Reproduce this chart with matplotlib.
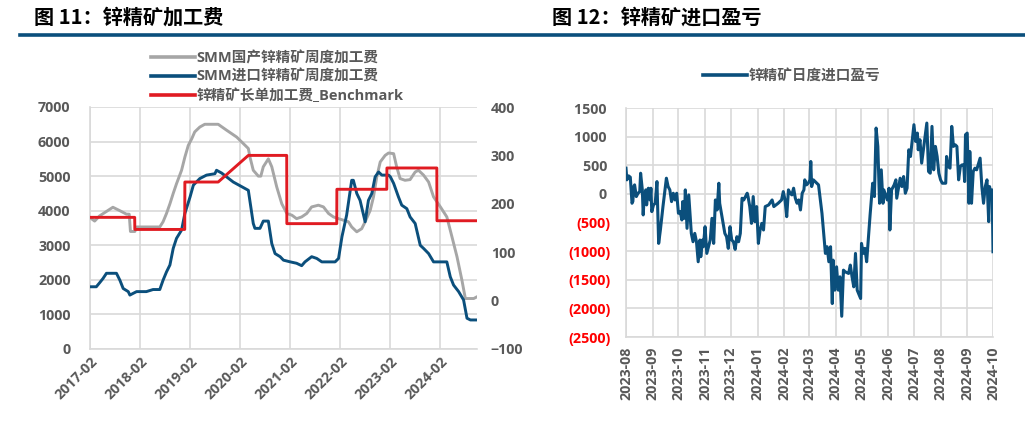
import matplotlib
matplotlib.use('Agg')
import matplotlib.pyplot as plt
import matplotlib.dates as mdates
import pandas as pd
from matplotlib.lines import Line2D
from matplotlib.ticker import FuncFormatter, FixedLocator

plt.rcParams['font.family'] = ['Open Sans', 'Noto Sans CJK SC', 'DejaVu Sans']

# ---------------- data: chart 11 ----------------
dom_dates = ['2017-02-01', '2017-03-07', '2017-04-12', '2017-07-18', '2017-09-07', '2017-10-25',
             '2017-11-14', '2017-11-23', '2017-12-25', '2018-01-07', '2018-06-25', '2018-07-19',
             '2018-08-13', '2018-09-07', '2018-10-01', '2018-10-25', '2018-12-01', '2018-12-25',
             '2019-01-19', '2019-02-13', '2019-03-07', '2019-04-13', '2019-05-19', '2019-08-25',
             '2019-10-25', '2020-01-07', '2020-04-01', '2020-04-13', '2020-05-07', '2020-06-13',
             '2020-07-01', '2020-07-19', '2020-08-25', '2020-09-19', '2020-10-25', '2020-12-01',
             '2021-01-07', '2021-02-13', '2021-03-19', '2021-04-25', '2021-06-01', '2021-07-07',
             '2021-08-25', '2021-10-01', '2021-11-07', '2021-12-13', '2022-01-19', '2022-04-01',
             '2022-04-25', '2022-06-01', '2022-07-07', '2022-08-01', '2022-09-07', '2022-10-01',
             '2022-10-25', '2022-11-19', '2022-12-25', '2023-01-19', '2023-02-25', '2023-03-19',
             '2023-04-13', '2023-05-19', '2023-06-25', '2023-08-01', '2023-08-25', '2023-10-01',
             '2023-11-07', '2023-12-13', '2024-02-01', '2024-03-19', '2024-04-25', '2024-06-01',
             '2024-07-07', '2024-08-01', '2024-10-01', '2024-10-25']
dom_vals = [3800, 3700, 3850, 4100, 4000, 3900, 3900, 3400, 3400, 3530, 3530, 3680,
            3920, 4200, 4500, 4780, 5170, 5550, 5890, 6080, 6280, 6420, 6500, 6500,
            6330, 6130, 5800, 5550, 5170, 5000, 5000, 5270, 5500, 5270, 4690, 4200,
            3920, 3870, 3770, 3820, 3920, 4110, 4160, 4110, 3920, 3820, 3770, 3680,
            3530, 3390, 3480, 3680, 4010, 4400, 4980, 5410, 5600, 5670, 5650, 5270,
            4930, 4880, 4900, 5120, 5170, 5030, 4830, 4400, 4110, 3820, 3250, 2670,
            1990, 1460, 1460, 1510]

imp_dates = ['2017-02-01', '2017-03-19', '2017-04-13', '2017-05-07', '2017-06-01', '2017-08-13',
             '2017-09-07', '2017-10-01', '2017-11-07', '2017-11-19', '2017-12-13', '2018-01-07',
             '2018-03-19', '2018-05-07', '2018-06-25', '2018-07-19', '2018-08-13', '2018-09-07',
             '2018-10-01', '2018-10-25', '2018-12-01', '2018-12-25', '2019-02-01', '2019-02-25',
             '2019-04-13', '2019-06-01', '2019-08-01', '2019-08-13', '2019-09-19', '2019-12-13',
             '2020-04-01', '2020-05-07', '2020-05-19', '2020-06-25', '2020-07-19', '2020-08-25',
             '2020-09-19', '2020-10-13', '2020-11-19', '2020-12-13', '2021-02-01', '2021-03-19',
             '2021-04-25', '2021-05-19', '2021-07-07', '2021-08-13', '2021-09-19', '2021-12-25',
             '2022-01-19', '2022-02-13', '2022-03-19', '2022-04-25', '2022-05-07', '2022-06-01',
             '2022-06-25', '2022-08-01', '2022-08-25', '2022-09-19', '2022-10-13', '2022-11-07',
             '2022-12-01', '2023-01-19', '2023-02-01', '2023-02-25', '2023-04-01', '2023-04-25',
             '2023-06-01', '2023-06-25', '2023-08-01', '2023-09-07', '2023-10-01', '2023-11-07',
             '2023-12-13', '2024-03-19', '2024-04-13', '2024-05-07', '2024-06-13', '2024-07-19',
             '2024-08-13', '2024-09-07', '2024-10-25']
imp_vals = [1800, 1800, 1920, 2040, 2190, 2190, 1990, 1750, 1660, 1560, 1610, 1660,
            1660, 1720, 1720, 1990, 2230, 2430, 2910, 3200, 3440, 3920, 4400, 4740,
            4930, 5030, 5070, 5170, 5090, 4830, 4590, 3630, 3490, 3490, 3700, 3700,
            3050, 2760, 2670, 2570, 2520, 2480, 2410, 2520, 2670, 2620, 2520, 2520,
            2620, 3250, 3870, 4880, 4880, 4500, 4300, 3680, 4300, 4500, 4980, 5120,
            5030, 5030, 4980, 4790, 4400, 4160, 4060, 3820, 3630, 3000, 2910, 2760,
            2520, 2520, 2090, 1850, 1660, 1420, 890, 840, 840]

bm_dates = ['2017-02-01', '2017-12-24', '2017-12-25', '2018-12-24', '2018-12-25', '2019-08-25',
            '2020-04-01', '2021-01-06', '2021-01-07', '2022-01-06', '2022-01-07', '2023-01-06',
            '2023-01-07', '2024-01-06', '2024-01-07', '2024-10-25']
bm_vals = [172, 172, 147, 147, 245, 245, 300, 300, 159, 159, 230, 230, 274, 274, 165, 165]

left_year_ticks = ['2017-02', '2018-02', '2019-02', '2020-02', '2021-02', '2022-02', '2023-02', '2024-02']

# ---------------- data: chart 12 ----------------
pl_start = '2023-08-01'
pl_days = [0, 1, 3, 5, 7, 8, 9, 10, 12, 14, 16, 17, 19, 20, 21, 23, 24, 26, 28, 29, 30, 32, 34, 36, 38,
           40, 43, 47, 49, 51, 53, 55, 57, 59, 61, 63, 65, 66, 68, 69, 71, 73, 75, 76, 78, 80, 82,
           84, 86, 87, 89, 90, 92, 94, 96, 98, 100, 102, 104, 106, 108, 109, 111, 115, 117, 119,
           121, 123, 125, 127, 129, 131, 133, 135, 137, 139, 141, 142, 144, 146, 148, 150, 152,
           154, 156, 158, 160, 162, 166, 170, 172, 177, 181, 183, 185, 187, 189, 191, 193, 195,
           197, 199, 201, 203, 205, 207, 208, 210, 212, 214, 215, 216, 218, 220, 224, 228, 232,
           234, 236, 238, 240, 241, 243, 245, 247, 249, 251, 253, 255, 259, 261, 263, 265, 267,
           269, 273, 274, 276, 278, 280, 284, 287, 289, 291, 293, 295, 297, 299, 300, 304, 306,
           307, 309, 312, 314, 315, 317, 319, 321, 323, 325, 327, 329, 331, 335, 337, 339, 340,
           342, 344, 348, 350, 352, 354, 356, 358, 360, 362, 364, 366, 368, 372, 373, 375, 377,
           379, 381, 383, 385, 387, 389, 391, 393, 394, 395, 397, 399, 400, 402, 404, 406, 408,
           412, 414, 416, 418, 420, 422, 423, 424, 426, 427]
pl_vals = [449, 245, 315, 291, -164, -130, 128, 157, -47, 11, 40, 361, 70, -368, -106, 70, -193, 99,
           -106, 99, -310, -193, -164, 215, -865, -631, -222, 274, 128, 70, -135, 11, -106, 11,
           -339, -310, -456, -135, -427, 70, -602, -18, -456, -690, -836, -690, -836, -1186, -806,
           -1098, -806, -923, -573, -1040, -923, -806, -427, -865, -106, -281, 186, -164, -339,
           -690, -748, -952, -573, -806, -836, -970, -748, -836, -690, -76, -106, -47, 11, -47,
           -222, -515, -47, -485, -222, -865, -631, -515, -631, -222, -193, -106, -222, -164,
           -106, 40, -106, -398, 70, 11, -18, 99, -76, -164, -106, -281, 11, 70, 245, 157, 186,
           245, 566, 128, 245, 216, 157, -339, -1040, -923, -1186, -923, -1916, -1157, -1682,
           -1274, -1682, -1449, -2138, -1332, -1361, -1390, -1244, -1449, -1624, -1040, -1682,
           -1828, -865, -1040, -952, -1186, -368, 186, -47, 1150, 829, -164, 420, -164, 70, -106,
           99, -631, 70, 157, 245, -76, 99, 274, 128, 303, 11, 99, 770, 653, 1208, 916, 1062,
           770, 946, 537, 1004, 1237, 391, 361, 1179, 420, 829, 653, 361, 245, 186, 186, 653,
           478, 449, 1179, 829, 858, 829, 245, 478, 507, 507, 215, 1033, 1062, -164, 741, -164,
           391, 449, 420, 624, 128, -164, 128, 245, -485, 128, 11, 70, -1011]

right_month_ticks = ['2023-08', '2023-09', '2023-10', '2023-11', '2023-12', '2024-01', '2024-02',
                     '2024-03', '2024-04', '2024-05', '2024-06', '2024-07', '2024-08', '2024-09',
                     '2024-10']

# ---------------- style ----------------
GRAY = '#a6a6a6'
BLUE = '#0b4f7c'
RED = '#e01b22'
TXT = '#595959'
GRID = '#d9d9d9'
FS = 10.3

W, H = 1025, 424
fig = plt.figure(figsize=(W / 100, H / 100), dpi=100)

def fx(px):
    return px / W

def fy(py):
    return 1 - py / H

# titles + rule
title_font = dict(fontsize=14.5, fontweight='heavy', family=['Noto Sans CJK SC', 'DejaVu Sans'],
                  va='center', ha='left', color='black')
fig.text(fx(34), fy(17), '图 11：锌精矿加工费', **title_font)
fig.text(fx(552), fy(17), '图 12：锌精矿进口盈亏', **title_font)
fig.add_artist(Line2D([fx(20), 1.0], [fy(34.5), fy(34.5)], color='#0b4f7c', lw=2.6,
                      transform=fig.transFigure))

# ---------------- chart 11 ----------------
ax = fig.add_axes([fx(90), fy(349), fx(477) - fx(90), fy(107) - fy(349)])
ax2 = ax.twinx()

d_dom = pd.to_datetime(dom_dates)
d_imp = pd.to_datetime(imp_dates)
d_bm = pd.to_datetime(bm_dates)

l1, = ax.plot(d_dom, dom_vals, color=GRAY, lw=2.1, solid_joinstyle='round', zorder=3)
l2, = ax.plot(d_imp, imp_vals, color=BLUE, lw=2.1, solid_joinstyle='round', zorder=4)
l3, = ax2.plot(d_bm, bm_vals, color=RED, lw=2.1, zorder=5)

ax.set_xlim(pd.Timestamp('2017-02-01'), pd.Timestamp('2024-10-25'))
ax.set_ylim(0, 7000)
ax2.set_ylim(-100, 400)
ax.set_yticks(range(0, 7001, 1000))
ax2.set_yticks(range(-100, 401, 100))
ax.xaxis.set_major_locator(FixedLocator(mdates.date2num(pd.to_datetime(left_year_ticks))))
ax.set_xticklabels(left_year_ticks)
ax.grid(True, color=GRID, lw=1.2, zorder=0)
ax.set_axisbelow(True)
for s in ['top', 'right']:
    ax.spines[s].set_visible(False)
for s in ['left', 'bottom']:
    ax.spines[s].set_color(GRID)
    ax.spines[s].set_linewidth(1.2)
for s in ax2.spines.values():
    s.set_visible(False)
ax.tick_params(axis='both', length=0, labelsize=FS, labelcolor=TXT)
ax.tick_params(axis='y', pad=14)
ax.tick_params(axis='x', pad=4)
ax2.tick_params(axis='y', length=0, labelsize=FS, labelcolor=TXT, pad=10)
for lab in ax.get_xticklabels():
    lab.set_rotation(45)
    lab.set_ha('right')
    lab.set_va('top')
    lab.set_rotation_mode('anchor')
for lab in ax.get_xticklabels() + ax.get_yticklabels() + ax2.get_yticklabels():
    lab.set_fontweight('bold')

leg_font = dict(family=['Open Sans', 'Noto Sans CJK SC'], weight='bold', size=10.5)
leg1 = fig.legend([l1, l2, l3], ['SMM国产锌精矿周度加工费', 'SMM进口锌精矿周度加工费', '锌精矿长单加工费_Benchmark'],
                  loc='upper left', bbox_to_anchor=(fx(141), fy(41)), frameon=False,
                  prop=leg_font, handlelength=3.0, handletextpad=0.12, labelspacing=0.32,
                  borderpad=0.2)
for t in leg1.get_texts():
    t.set_color(TXT)
for h in leg1.get_lines():
    h.set_linewidth(2.6)

# ---------------- chart 12 ----------------
bx = fig.add_axes([fx(626), fy(337), fx(993) - fx(626), fy(108) - fy(337)])
d_pl = pd.Timestamp(pl_start) + pd.to_timedelta(pl_days, unit='D')
l4, = bx.plot(d_pl, pl_vals, color=BLUE, lw=2.2, solid_joinstyle='round', zorder=3)
bx.set_xlim(pd.Timestamp('2023-08-01'), pd.Timestamp('2024-10-01'))
bx.set_ylim(-2500, 1500)
bx.set_yticks(range(-2500, 1501, 500))
bx.xaxis.set_major_locator(FixedLocator(mdates.date2num(pd.to_datetime(right_month_ticks))))
bx.set_xticklabels(right_month_ticks, rotation=90)
bx.yaxis.set_major_formatter(FuncFormatter(lambda v, p: f'({abs(int(v))})' if v < 0 else f'{int(v)} '))
bx.grid(True, color=GRID, lw=1.2, zorder=0)
bx.set_axisbelow(True)
for s in ['top', 'right']:
    bx.spines[s].set_visible(False)
for s in ['left', 'bottom']:
    bx.spines[s].set_color(GRID)
    bx.spines[s].set_linewidth(1.2)
bx.tick_params(axis='both', length=0, labelsize=FS, labelcolor=TXT)
bx.tick_params(axis='y', pad=11)
bx.tick_params(axis='x', pad=7)
fig.canvas.draw()
for lab, v in zip(bx.get_yticklabels(), bx.get_yticks()):
    lab.set_fontweight('bold')
    if v < 0:
        lab.set_color('#ff0000')
for lab in bx.get_xticklabels():
    lab.set_fontweight('bold')

leg2 = fig.legend([l4], ['锌精矿日度进口盈亏'], loc='upper left', bbox_to_anchor=(fx(693), fy(59)),
                  frameon=False, prop=leg_font, handlelength=3.0, handletextpad=0.12, borderpad=0.2)
for t in leg2.get_texts():
    t.set_color(TXT)
for h in leg2.get_lines():
    h.set_linewidth(2.6)

fig.savefig('out.png', dpi=100)
